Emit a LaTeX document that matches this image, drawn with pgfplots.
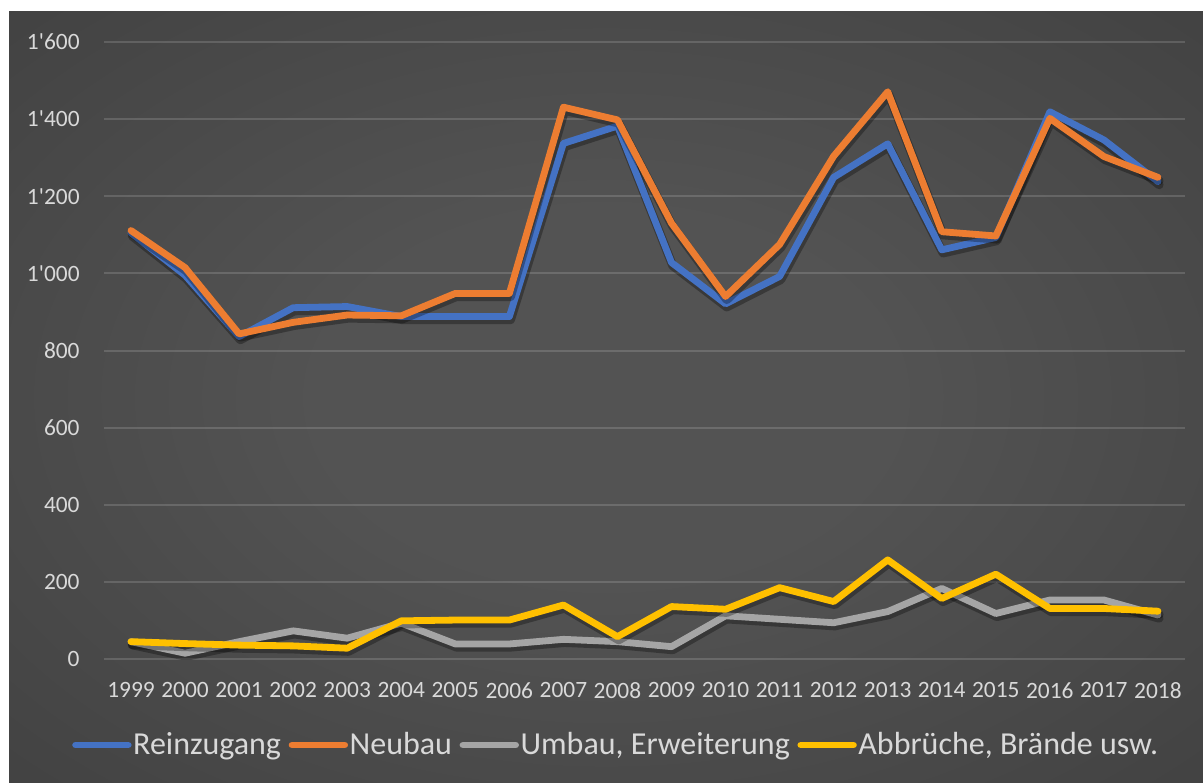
\documentclass[border=0pt]{standalone}
\usepackage{fontspec}
\setmainfont{Carlito}
\usepackage{pgfplots}
\usepackage{pgfplotstable}
\pgfplotsset{compat=1.18}

\definecolor{bgin}{HTML}{535353}
\definecolor{bgmid}{HTML}{383838}
\definecolor{bgout}{HTML}{252525}
\definecolor{lbl}{HTML}{D9D9D9}
\definecolor{cblue}{HTML}{4472C4}
\definecolor{corange}{HTML}{ED7D31}
\definecolor{cgray}{HTML}{A5A5A5}
\definecolor{cyellow}{HTML}{FFC000}

\pgfdeclareradialshading{bgshade}{\pgfpoint{0bp}{0bp}}{color(0bp)=(bgin); color(12bp)=(bgin); color(50bp)=(bgmid); color(71bp)=(bgout)}

% Jahr, Reinzugang, Neubau, Umbau/Erweiterung, Abbrueche/Braende
\pgfplotstableread{
year rein neu umbau abbr
1999 1105 1111  45  45
2000  995 1015  15  40
2001  836  843  45  36
2002  911  873  73  34
2003  914  892  54  28
2004  888  890  93  99
2005  888  948  39 101
2006  888  948  39 101
2007 1337 1431  51 140
2008 1382 1398  45  58
2009 1028 1130  32 136
2010  921  940 112 129
2011  992 1075 103 185
2012 1249 1304  94 149
2013 1336 1471 123 257
2014 1061 1108 183 157
2015 1093 1097 118 220
2016 1419 1402 153 131
2017 1346 1303 153 131
2018 1238 1249 114 124
}\data

\begin{document}
\begin{tikzpicture}
\useasboundingbox (0,0) rectangle (601.5pt,391pt);
\fill[white] (0,0) rectangle (601.5pt,391pt);
\shade[shading=bgshade] (4.5pt,0pt) rectangle (601.5pt,385pt);
\begin{axis}[
    at={(52pt,61.5pt)}, anchor=south west,
    scale only axis, width=540.5pt, height=308.5pt,
    xmin=1998.5, xmax=2018.5, ymin=0, ymax=1600,
    xtick={1999,...,2018}, ytick={0,200,...,1600},
    scaled ticks=false,
    axis line style={draw=none}, major tick length=0pt,
    ymajorgrids, major grid style={white, opacity=0.15, line width=1pt},
    /pgf/number format/1000 sep={\textquotesingle},
    /pgf/number format/assume math mode=true,
    tick label style={font=\fontsize{11.7}{14}\selectfont, text=lbl},
    xticklabel style={/pgf/number format/1000 sep={}, anchor=north, inner sep=0pt, yshift=-11.5pt},
    yticklabel style={anchor=east, inner sep=0pt, xshift=-12pt},
    legend columns=4,
    legend style={at={(0.4736,-0.1394)}, anchor=center, draw=none, fill=none,
        text=lbl, font=\fontsize{16}{18}\selectfont, nodes={inner sep=0.8pt},
        /tikz/every even column/.append style={column sep=3pt}},
    legend image code/.code={\draw[#1, line width=3.4pt, line cap=round] (1.7pt,0pt) -- (28pt,0pt);},
    shd/.style={black, opacity=0.3, line width=4.4pt, line join=round, line cap=round, yshift=-1.6pt, xshift=0.6pt, forget plot},
    ln/.style={line width=3.4pt, line join=round, line cap=round},
]
\addplot[shd] table[x=year, y=rein] {\data};
\addplot[ln, cblue] table[x=year, y=rein] {\data};
\addplot[shd] table[x=year, y=neu] {\data};
\addplot[ln, corange] table[x=year, y=neu] {\data};
\addplot[shd] table[x=year, y=umbau] {\data};
\addplot[ln, cgray] table[x=year, y=umbau] {\data};
\addplot[shd] table[x=year, y=abbr] {\data};
\addplot[ln, cyellow] table[x=year, y=abbr] {\data};
\legend{Reinzugang, Neubau, {Umbau, Erweiterung}, {Abbrüche, Brände usw.}}
\end{axis}
\end{tikzpicture}
\end{document}
